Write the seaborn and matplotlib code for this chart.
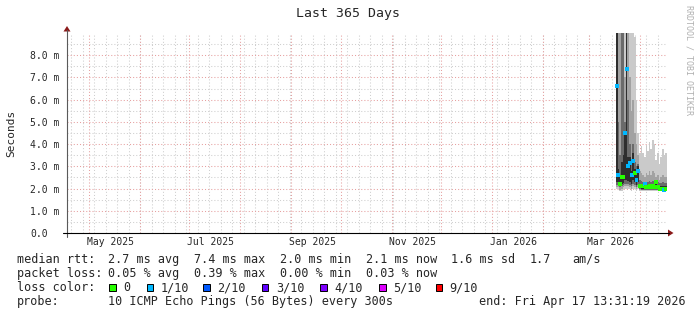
import numpy as np
import pandas as pd
import matplotlib
matplotlib.use("Agg")
import matplotlib.pyplot as plt
import matplotlib.dates as mdates
from matplotlib.patches import Rectangle, Polygon
from matplotlib.lines import Line2D
import seaborn as sns

sns.set_style("white")
plt.rcParams['font.family'] = ['DejaVu Sans Mono', 'DejaVu Sans']

# ---------------- data ----------------
title = "Last 365 Days"
y_label = "Seconds"
side_text = "RRDTOOL / TOBI OETIKER"
range_start = "2025-04-17 13:31:19"
range_end = "2026-04-17 13:31:19"

# one sample per day (consolidated), values in milliseconds
sample_start = "2026-03-17 12:00"
smoke_min = [2.0, 2.0, 1.9, 1.9, 2.0, 2.0, 2.0, 2.0, 2.0, 1.9, 2.0, 2.0, 1.9, 2.0, 1.9, 1.9,
             1.9, 1.9, 1.9, 1.9, 1.9, 1.9, 1.9, 1.9, 1.9, 1.9, 1.9, 1.9, 1.9, 1.9, 1.9]
smoke_max = [9.5, 9.5, 9.5, 9.5, 9.5, 9.5, 9.5, 9.5, 9.3, 9.3, 9.0, 8.8, 6.0, 4.5, 3.6, 3.9,
             3.6, 3.4, 3.9, 3.7, 4.1, 3.8, 4.2, 4.0, 3.3, 3.6, 3.1, 3.4, 3.8, 3.5, 3.6]
mid_lo = [2.05, 2.05, 1.95, 2.0, 2.05, 2.1, 2.1, 2.1, 2.05, 2.0, 2.1, 2.05, 2.0, 2.05, 1.95, 1.95,
          1.95, 1.95, 1.95, 1.95, 1.95, 1.95, 1.95, 1.95, 1.95, 1.95, 1.9, 1.9, 1.9, 1.9, 1.9]
mid_hi = [9.5, 9.5, 9.0, 9.5, 9.5, 7.0, 9.5, 9.5, 7.0, 5.5, 6.0, 4.5, 4.0, 3.5, 2.8, 2.7,
          2.6, 2.5, 2.7, 2.6, 2.8, 2.6, 2.8, 2.7, 2.5, 2.6, 2.4, 2.5, 2.6, 2.5, 2.5]
dark_lo = [2.15, 2.1, 2.05, 2.1, 2.15, 2.2, 2.2, 2.2, 2.15, 2.1, 2.2, 2.15, 2.05, 2.15, 2.0, 1.95,
           1.95, 1.95, 1.95, 1.95, 1.95, 1.95, 1.95, 1.95, 1.95, 1.95, 1.95, 1.95, 1.95, 1.95, 1.95]
dark_hi = [9.5, 5.0, 3.5, 9.5, 9.5, 5.0, 9.5, 6.0, 4.0, 3.2, 4.0, 3.2, 3.0, 3.1, 2.4, 2.35,
           2.3, 2.3, 2.3, 2.3, 2.35, 2.3, 2.35, 2.3, 2.35, 2.3, 2.25, 2.25, 2.3, 2.25, 2.25]
core_lo = [2.3, 2.25, 2.1, 2.2, 2.25, 2.4, 2.4, 2.35, 2.3, 2.2, 2.4, 2.3, 2.15, 2.3, 2.05, 2.0,
           2.0, 2.0, 2.0, 2.0, 2.0, 2.0, 2.0, 2.0, 2.0, 1.98, 1.98, 1.98, 1.98, 1.98, 1.98]
core_hi = [9.5, 2.9, 2.5, 3.2, 3.5, 4.6, 9.5, 3.4, 3.4, 2.8, 3.6, 2.9, 2.6, 3.0, 2.2, 2.2,
           2.2, 2.25, 2.15, 2.15, 2.2, 2.15, 2.2, 2.15, 2.35, 2.15, 2.1, 2.1, 2.1, 2.1, 2.1]
median = [6.6, 2.6, 2.2, 2.5, 2.5, 4.5, 7.4, 3.0, 3.15, 2.6, 3.26, 2.72, 2.38, 2.81, 2.12, 2.1,
          2.1, 2.2, 2.05, 2.05, 2.1, 2.05, 2.1, 2.05, 2.3, 2.05, 2.0, 2.0, 2.0, 1.95, 2.0]
loss = ["1/10", "1/10", "0", "0", "0", "1/10", "1/10", "1/10", "1/10", "1/10", "1/10", "0",
        "1/10", "1/10", "0", "0", "0", "1/10", "0", "0", "0", "0", "0", "0", "0", "0", "0",
        "0", "0", "1/10", "0"]

loss_labels = ["0", "1/10", "2/10", "3/10", "4/10", "5/10", "9/10"]
loss_colors = ["#26ff00", "#00b8ff", "#0059ff", "#5e00ff", "#7e00ff", "#dd00ff", "#ff0000"]

y_ticks = [0, 1, 2, 3, 4, 5, 6, 7, 8]
y_tick_labels = ["0.0", "1.0 m", "2.0 m", "3.0 m", "4.0 m", "5.0 m", "6.0 m", "7.0 m", "8.0 m"]
x_tick_dates = ["2025-05-14", "2025-07-14", "2025-09-14", "2025-11-14", "2026-01-14", "2026-03-14"]
x_tick_labels = ["May 2025", "Jul 2025", "Sep 2025", "Nov 2025", "Jan 2026", "Mar 2026"]

legend_rtt = [(16.7, "median rtt:"), (108, "2.7 ms avg"), (194, "7.4 ms max"), (279.5, "2.0 ms min"),
              (366, "2.1 ms now"), (451, "1.6 ms sd"), (529.5, "1.7"), (572.4, "am/s")]
legend_loss = [(16.7, "packet loss:"), (108, "0.05 % avg"), (194, "0.39 % max"),
               (279.5, "0.00 % min"), (366, "0.03 % now")]
legend_color_head = "loss color:"
legend_box_x = [109, 146.7, 203.3, 261.7, 320, 379, 435.7]
legend_probe = [(16.7, "probe:"), (108, "10 ICMP Echo Pings (56 Bytes) every 300s"),
                (479, "end: Fri Apr 17 13:31:19 2026")]

# ---------------- figure ----------------
W, H = 697, 315
fig = plt.figure(figsize=(W / 100, H / 100), dpi=100)
fig.patch.set_facecolor("white")

def fx(x):
    return x / W

def fy(y):
    return 1 - y / H

AX_L, AX_R, AX_T, AX_B = 67, 667, 33, 233
ax = fig.add_axes([fx(AX_L), fy(AX_B), (AX_R - AX_L) / W, (AX_B - AX_T) / H])
ax.set_facecolor("white")

t0 = pd.Timestamp(range_start)
t1 = pd.Timestamp(range_end)
ax.set_xlim(mdates.date2num(t0), mdates.date2num(t1))
ax.set_ylim(0, 9)

# grid
GRID_C = "#cfcfcf"
MGRID_C = "#e6a0a0"
dots = (0, (1, 2))
for y in np.arange(0.5, 9, 1.0):
    ax.axhline(y, color=GRID_C, lw=0.75, ls=dots, zorder=1)
for d in pd.date_range(t0.normalize(), t1, freq="W-SUN"):
    ax.axvline(mdates.date2num(d), color=GRID_C, lw=0.75, ls=dots, zorder=1)
for y in range(1, 9):
    ax.axhline(y, color=MGRID_C, lw=0.75, ls=dots, zorder=1.5)
for d in pd.date_range(t0.normalize(), t1, freq="MS"):
    ax.axvline(mdates.date2num(d), color=MGRID_C, lw=0.75, ls=dots, zorder=1.5)

# smoke
times = pd.date_range(sample_start, periods=len(median), freq="D")
edges = mdates.date2num(list(times) + [times[-1] + pd.Timedelta(days=1)])

def stepfill(lo, hi, color, z):
    lo_e = list(lo) + [lo[-1]]
    hi_e = list(hi) + [hi[-1]]
    ax.fill_between(edges, lo_e, hi_e, step="post", color=color, lw=0, zorder=z)

stepfill(smoke_min, smoke_max, "#cacaca", 2)
stepfill(mid_lo, mid_hi, "#a2a2a2", 3)
stepfill(dark_lo, dark_hi, "#6a6a6a", 4)
stepfill(core_lo, core_hi, "#2e2e2e", 5)

# median coloured by loss
df = pd.DataFrame({
    "time": times + pd.Timedelta(hours=12),
    "median": median,
    "loss": loss,
})
sns.scatterplot(data=df, x="time", y="median", hue="loss", hue_order=loss_labels,
                palette=dict(zip(loss_labels, loss_colors)), marker="s", s=8,
                linewidth=0, legend=False, ax=ax, zorder=6)

# axes styling
for s in ax.spines.values():
    s.set_visible(False)
ax.set_xlabel("")
ax.set_ylabel("")
ax.set_yticks(y_ticks)
ax.set_yticklabels(y_tick_labels, fontsize=7)
ax.set_xticks(mdates.date2num(pd.to_datetime(x_tick_dates)))
ax.set_xticklabels(x_tick_labels, fontsize=7)
ax.tick_params(axis="x", length=0, pad=3.2)
ax.tick_params(axis="y", length=3, width=0.8, color="#606060", direction="out", pad=23.6)
for lab in ax.get_yticklabels():
    lab.set_horizontalalignment("left")

# axis lines and arrows
fig.add_artist(Line2D([fx(67), fx(67)], [fy(237), fy(30)], color="#5a5a5a", lw=0.8))
fig.add_artist(Line2D([fx(63), fx(669)], [fy(233), fy(233)], color="#000000", lw=0.8))
arrow_c = "#8b1a1a"
fig.add_artist(Polygon([[fx(63.5), fy(31.5)], [fx(70.5), fy(31.5)], [fx(67), fy(26)]],
                       closed=True, color=arrow_c, lw=0))
fig.add_artist(Polygon([[fx(668), fy(229.5)], [fx(668), fy(236.5)], [fx(673.5), fy(233)]],
                       closed=True, color=arrow_c, lw=0))

# texts
fig.text(0.5, fy(14), title, ha="center", va="center", fontsize=9.5)
fig.text(fx(11), fy(133), y_label, ha="center", va="center", rotation=90, fontsize=8)
fig.text(fx(688.5), fy(5), side_text, ha="center", va="top", rotation=270,
         fontsize=6, color="#b0b0b0")

FS = 8.5
for x, t in legend_rtt:
    fig.text(fx(x), fy(263), t, ha="left", va="baseline", fontsize=FS)
for x, t in legend_loss:
    fig.text(fx(x), fy(277), t, ha="left", va="baseline", fontsize=FS)
fig.text(fx(16.7), fy(291.3), legend_color_head, ha="left", va="baseline", fontsize=FS)
for bx, lab, col in zip(legend_box_x, loss_labels, loss_colors):
    fig.add_artist(Rectangle((fx(bx), fy(290.7)), 6.7 / W, 6.7 / H, facecolor=col,
                             edgecolor="black", lw=0.7))
    fig.text(fx(bx + 14), fy(291.3), lab, ha="left", va="baseline", fontsize=FS)
for x, t in legend_probe:
    fig.text(fx(x), fy(305.3), t, ha="left", va="baseline", fontsize=FS)

fig.savefig("out.png", dpi=100, facecolor="white")
